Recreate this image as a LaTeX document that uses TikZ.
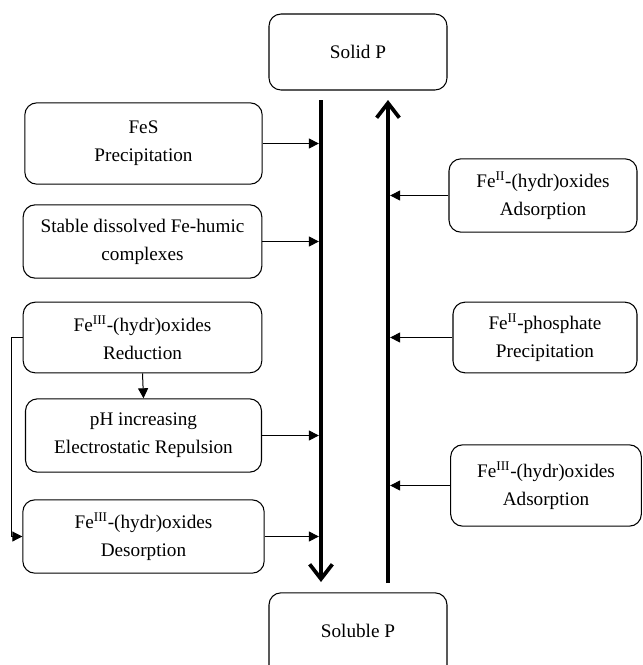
\documentclass[tikz,border=0pt]{standalone}
\usepackage{fontspec}
\setmainfont{Liberation Serif}
\usepackage{tikz}
\usetikzlibrary{arrows.meta, positioning}

\begin{document}
\begin{tikzpicture}[x=0.75pt, y=-0.75pt,
    box/.style={draw, rounded corners=9pt, align=center, line width=0.8pt,
      font=\fontsize{14.4pt}{21pt}\selectfont, inner sep=0pt},
    flow/.style={line width=3pt, -{Straight Barb[length=11pt, width=17pt, line width=2.8pt]}},
    feed/.style={line width=0.75pt, -{Triangle[length=7.5pt, width=7.5pt]}, shorten >=1.6pt}]
    \useasboundingbox (0,0) rectangle (643,665);

    \node[box, minimum width=133.5pt, minimum height=57pt] (solid) at (358,52) {Solid P};
    \node[box, minimum width=133.5pt, minimum height=76pt] (soluble) at (358,643.5) {};
    \node[font=\fontsize{14.4pt}{21pt}\selectfont] (solubletext) at (358,631) {Soluble P};

    \node[box, minimum width=178pt, minimum height=61pt] (fes) at (143.5,143.5) {FeS\\Precipitation};
    \node[box, minimum width=179pt, minimum height=55pt] (humic) at (142.5,241.5) {Stable dissolved Fe-humic\\complexes};
    \node[box, minimum width=179pt, minimum height=53pt] (reduct) at (142.5,337.5) {Fe\textsuperscript{III}-(hydr)oxides\\Reduction};
    \node[box, minimum width=177pt, minimum height=55pt] (ph) at (143.5,435.5) {pH increasing\\Electrostatic Repulsion};
    \node[box, minimum width=181pt, minimum height=55pt] (desorb) at (143.5,536.5) {Fe\textsuperscript{III}-(hydr)oxides\\Desorption};

    \node[box, minimum width=141pt, minimum height=55pt] (adsII) at (543,195.5) {Fe\textsuperscript{II}-(hydr)oxides\\Adsorption};
    \node[box, minimum width=138pt, minimum height=53pt] (phosII) at (545,337.5) {Fe\textsuperscript{II}-phosphate\\Precipitation};
    \node[box, minimum width=143pt, minimum height=61pt] (adsIII) at (546,485.5) {Fe\textsuperscript{III}-(hydr)oxides\\Adsorption};

    \coordinate (downtop) at (321,100);
    \coordinate (downend) at (321,582);
    \coordinate (upbot) at (388,583);
    \coordinate (uptop) at (388,100);

    \draw[flow] (downtop) -- (downend);
    \draw[flow] (upbot) -- (uptop);

    \draw[feed] (fes.east) -- (fes.east -| downtop);
    \draw[feed] (humic.east) -- (humic.east -| downtop);
    \draw[feed] (ph.east) -- (ph.east -| downtop);
    \draw[feed] (desorb.east) -- (desorb.east -| downtop);

    \draw[feed] (adsII.west) -- (adsII.west -| uptop);
    \draw[feed] (phosII.west) -- (phosII.west -| uptop);
    \draw[feed] (adsIII.west) -- (adsIII.west -| uptop);

    \draw[feed, shorten >=0pt] (reduct.south) -- (ph.north);
    \draw[feed, shorten >=0pt] (reduct.west) -- ++(-11,0) |- (desorb.west);
\end{tikzpicture}
\end{document}
